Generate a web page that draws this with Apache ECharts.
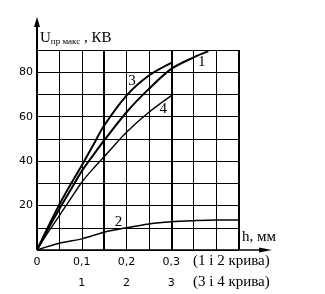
<!DOCTYPE html>
<html>
<head>
<meta charset="utf-8">
<script src="https://cdn.jsdelivr.net/npm/echarts@6/dist/echarts.min.js"></script>
<style>
html,body{margin:0;padding:0;background:#fff;}
#chart{width:325px;height:294px;}
</style>
</head>
<body>
<div id="chart"></div>
<script>
// h, мм (curves 1,2 scale) / same positions for curves 3,4 on 2nd scale
const curve1H = [0, 0.025, 0.05, 0.075, 0.1, 0.125, 0.15, 0.2, 0.25, 0.3, 0.35, 0.383];
const curve1U = [0, 9.5, 18.5, 27, 35.5, 42.5, 49.3, 62, 72.5, 81.5, 86.7, 89.5];
const curve2H = [0, 0.05, 0.1, 0.15, 0.2, 0.25, 0.3, 0.35, 0.4, 0.45];
const curve2U = [0, 3, 5, 8, 10, 11.7, 12.7, 13.2, 13.5, 13.5];
const curve34H = [0, 0.025, 0.05, 0.075, 0.1, 0.125, 0.15, 0.2, 0.25, 0.3];
const curve3U = [0, 10.5, 20.5, 29.5, 38, 47, 56, 69.5, 78.5, 84.2];
const curve4U = [0, 8, 15.5, 23, 30.5, 36.5, 42, 53, 62, 69.5];

const xTicks1 = [0, 0.1, 0.2, 0.3];          // 0 0,1 0,2 0,3
const xTicks2 = {10: '1', 20: '2', 30: '3'}; // second row
const yTicks = [20, 40, 60, 80];
const thickX = [0.15, 0.3, 0.45];

// curve number labels [name, h, U]
const curveTags = [['1', 0.368, 84.7], ['2', 0.182, 12.7], ['3', 0.212, 76.2], ['4', 0.282, 63.4]];

const L = 37, T = 50, W = 201.4, H = 200;
const serif = '"Liberation Serif", "DejaVu Serif", serif';
const sans = '"DejaVu Sans", sans-serif';

const chart = echarts.init(document.getElementById('chart'));

function pairs(xs, ys) { return xs.map((x, i) => [x, ys[i]]); }

function curve(name, xs, ys, w) {
  return {
    type: 'line', name: name, data: pairs(xs, ys),
    showSymbol: false, smooth: 0.3, silent: true,
    lineStyle: {color: '#000', width: w}
  };
}

const option = {
  animation: false,
  grid: {left: L, top: T, width: W, height: H},
  xAxis: [{
    type: 'value', min: 0, max: 0.45, interval: 0.05,
    axisLine: {show: false}, axisTick: {show: false},
    splitLine: {lineStyle: {color: '#000', width: 1}},
    axisLabel: {
      color: '#000', fontFamily: sans, fontSize: 11, margin: 7,
      formatter: v => {
        const k = Math.round(v * 100);
        if (!xTicks1.some(t => Math.round(t * 100) === k)) return '';
        return k === 0 ? '0' : (k / 100).toFixed(1).replace('.', ',');
      }
    }
  }, {
    type: 'value', min: 0, max: 0.45, interval: 0.05, position: 'bottom', offset: 21,
    axisLine: {show: false}, axisTick: {show: false}, splitLine: {show: false},
    axisLabel: {
      color: '#000', fontFamily: sans, fontSize: 11, margin: 7,
      formatter: v => xTicks2[Math.round(v * 100)] || ''
    }
  }],
  yAxis: {
    type: 'value', min: 0, max: 90, interval: 10,
    axisLine: {show: false}, axisTick: {show: false},
    splitLine: {lineStyle: {color: '#000', width: 1}},
    axisLabel: {
      color: '#000', fontFamily: sans, fontSize: 11, margin: 4,
      formatter: v => yTicks.indexOf(v) >= 0 ? String(v) : ''
    }
  },
  series: [
    curve('1', curve1H, curve1U, 2),
    curve('2', curve2H, curve2U, 1.5),
    curve('3', curve34H, curve3U, 2),
    curve('4', curve34H, curve4U, 1.4),
    {
      type: 'line', data: [], silent: true,
      markLine: {
        symbol: 'none', silent: true, label: {show: false},
        lineStyle: {color: '#000', width: 2, type: 'solid'},
        data: thickX.map(x => ({xAxis: x}))
      },
      markPoint: {
        symbol: 'circle', symbolSize: 0, silent: true,
        label: {show: true, position: 'inside', color: '#000', fontFamily: serif, fontSize: 15},
        data: curveTags.map(t => ({coord: [t[1], t[2]], value: t[0]}))
      }
    }
  ],
  graphic: [
    // y axis with arrow
    {type: 'line', shape: {x1: L, y1: T + H, x2: L, y2: 24}, style: {stroke: '#000', lineWidth: 2}},
    {type: 'polygon', shape: {points: [[L, 17], [L - 3, 27], [L + 3, 27]]}, style: {fill: '#000'}},
    // x axis with arrow
    {type: 'line', shape: {x1: L, y1: T + H, x2: 264, y2: T + H}, style: {stroke: '#000', lineWidth: 1.5}},
    {type: 'polygon', shape: {points: [[272, T + H], [259, T + H - 2.5], [259, T + H + 2.5]]}, style: {fill: '#000'}},
    {
      type: 'text', left: 40, top: 31,
      style: {
        text: '{u|U}{s|пр макс}{u| , КВ}',
        rich: {
          u: {fontFamily: serif, fontSize: 15, fill: '#000'},
          s: {fontFamily: serif, fontSize: 9, fill: '#000', verticalAlign: 'bottom', padding: [6, 0, 0, 0]}
        }
      }
    },
    {type: 'text', left: 242, top: 230, style: {text: 'h, мм', fontFamily: serif, fontSize: 15, fill: '#000'}},
    {type: 'text', left: 193, top: 254, style: {text: '(1 і 2 крива)', fontFamily: serif, fontSize: 15, fill: '#000'}},
    {type: 'text', left: 193, top: 275, style: {text: '(3 і 4 крива)', fontFamily: serif, fontSize: 15, fill: '#000'}}
  ]
};

chart.setOption(option);
</script>
</body>
</html>
